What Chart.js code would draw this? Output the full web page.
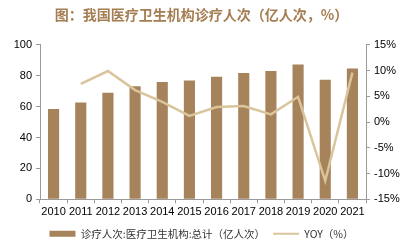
<!DOCTYPE html>
<html>
<head>
<meta charset="utf-8">
<script src="https://cdn.jsdelivr.net/npm/chart.js@4"></script>
<style>
  html, body { margin: 0; padding: 0; background: #fff; }
  #wrap { width: 403px; height: 249px; }
</style>
</head>
<body>
<div id="wrap"><canvas id="chart"></canvas></div>
<script>
// Chart data
const years = ['2010', '2011', '2012', '2013', '2014', '2015', '2016', '2017', '2018', '2019', '2020', '2021'];
const visits = [58.4, 62.7, 68.9, 73.1, 76.0, 76.9, 79.3, 81.8, 83.1, 87.2, 77.4, 84.7];
const yoy = [null, 7.4, 9.9, 6.2, 3.9, 1.2, 2.9, 3.1, 1.5, 4.9, -11.4, 9.6];
const leftTicks = [0, 100, 10];
const rightTicks = [-15, 15, 5];

const barColor = '#a6835a';
const lineColor = '#d9c49c';
const axisColor = '#9a9a9a';
const tickFont = { family: 'Liberation Sans, Arial, sans-serif', size: 11 };

new Chart(document.getElementById('chart'), {
    type: 'bar',
    data: {
        labels: years,
        datasets: [{
            type: 'bar',
            label: '诊疗人次:医疗卫生机构:总计（亿人次）',
            data: visits,
            backgroundColor: barColor,
            barPercentage: 0.82,
            categoryPercentage: 0.5,
            yAxisID: 'y',
            order: 2
        }, {
            type: 'line',
            label: 'YOY（%）',
            data: yoy,
            borderColor: lineColor,
            backgroundColor: lineColor,
            borderWidth: 2.5,
            pointRadius: 0,
            tension: 0,
            yAxisID: 'y1',
            order: 1
        }]
    },
    options: {
        responsive: true,
        maintainAspectRatio: false,
        animation: false,
        layout: { padding: { left: 0, right: 0, top: 0, bottom: 0 } },
        plugins: {
            title: {
                display: true,
                text: '图：我国医疗卫生机构诊疗人次（亿人次，%）',
                color: '#a57d52',
                font: { family: 'Noto Sans CJK SC', size: 14, weight: 'bold' },
                padding: { top: 6, bottom: 22 }
            },
            legend: {
                position: 'bottom',
                labels: {
                    color: '#333',
                    font: { family: 'Noto Sans CJK SC', size: 10.5 },
                    padding: 8,
                    usePointStyle: true,
                    boxHeight: 6,
                    pointStyleWidth: 26,
                    generateLabels: (chart) => chart.data.datasets.map((ds, i) => ({
                        text: ds.label,
                        fillStyle: ds.type === 'bar' ? barColor : lineColor,
                        strokeStyle: ds.type === 'bar' ? barColor : lineColor,
                        lineWidth: ds.type === 'bar' ? 0 : 2,
                        pointStyle: ds.type === 'bar' ? 'rect' : 'line',
                        fontColor: '#333',
                        datasetIndex: i
                    }))
                }
            },
            tooltip: { enabled: false }
        },
        scales: {
            x: {
                grid: { offset: true, drawOnChartArea: false, color: axisColor, tickLength: 4 },
                border: { color: axisColor },
                ticks: { color: '#000', font: tickFont, maxRotation: 0, autoSkip: false, padding: 2 }
            },
            y: {
                position: 'left',
                min: leftTicks[0],
                max: leftTicks[1],
                grid: { drawOnChartArea: false, color: axisColor, tickLength: 4 },
                border: { color: axisColor },
                ticks: { stepSize: leftTicks[2], color: '#000', font: tickFont, padding: 4 },
                afterFit: (scale) => { scale.width = 40; }
            },
            y1: {
                position: 'right',
                min: rightTicks[0],
                max: rightTicks[1],
                grid: { drawOnChartArea: false, color: axisColor, tickLength: 4 },
                border: { color: axisColor },
                ticks: {
                    stepSize: rightTicks[2],
                    color: '#000',
                    font: tickFont,
                    padding: 4,
                    callback: (v) => v + '%'
                },
                afterFit: (scale) => { scale.width = 37; }
            }
        }
    }
});
</script>
</body>
</html>
